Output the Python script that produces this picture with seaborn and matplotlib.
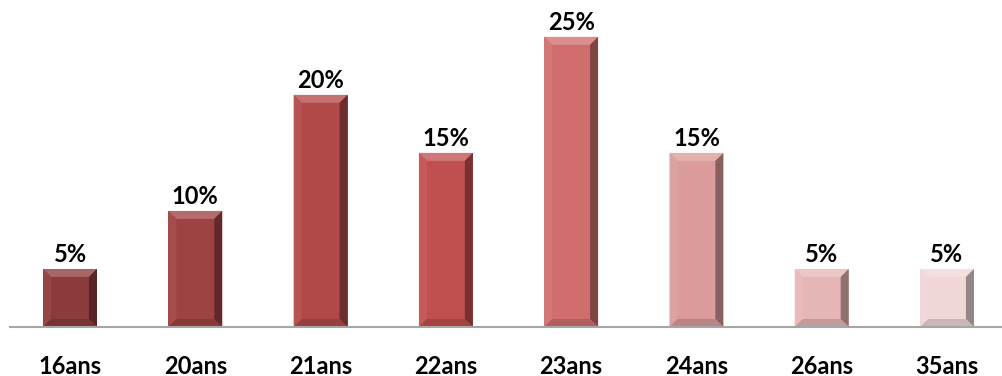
import matplotlib
matplotlib.use("Agg")
import matplotlib.pyplot as plt
import seaborn as sns
import pandas as pd
from matplotlib.patches import Polygon
import matplotlib.colors as mcolors

categories = ["16ans", "20ans", "21ans", "22ans", "23ans", "24ans", "26ans", "35ans"]
values = [5, 10, 20, 15, 25, 15, 5, 5]
labels = ["5%", "10%", "20%", "15%", "25%", "15%", "5%", "5%"]
colors = ["#8C3B3B", "#9F4242", "#B24949", "#C24F4F", "#D06E6E", "#DC9B9B", "#E6B6B6", "#F0D6D6"]

sns.set_theme(style="white")
plt.rcParams['font.family'] = ['Lato', 'DejaVu Sans']

df = pd.DataFrame({"cat": categories, "val": values})
fig = plt.figure(figsize=(10.03, 3.76), dpi=100)
ax = fig.add_axes([0.01, 0.1303, 0.99, 0.8427])
sns.barplot(data=df, x="cat", y="val", hue="cat", palette=colors, legend=False,
            width=0.43, ax=ax, saturation=1)
ax.set_xlim(-0.479, 7.447)
ax.set_ylim(0, 27.3)

fig.canvas.draw()
inv = ax.transData.inverted()
p0 = inv.transform((0, 0)); p1 = inv.transform((8, 8))
bx = p1[0] - p0[0]; by = p1[1] - p0[1]

def shade(c, f):
    r, g, b = mcolors.to_rgb(c)
    if f > 0:
        return (r + (1 - r) * f, g + (1 - g) * f, b + (1 - b) * f)
    return (r * (1 + f), g * (1 + f), b * (1 + f))

for patch, col, lab in zip(ax.patches, colors, labels):
    x, y = patch.get_x(), patch.get_y()
    w, h = patch.get_width(), patch.get_height()
    patch.set_edgecolor("none")
    top = y + h
    ax.add_patch(Polygon([(x, top), (x + w, top), (x + w - bx, top - by), (x + bx, top - by)],
                         closed=True, facecolor=shade(col, 0.22), edgecolor="none"))
    ax.add_patch(Polygon([(x, y), (x, top), (x + bx, top - by), (x + bx, y + by)],
                         closed=True, facecolor=shade(col, 0.06), edgecolor="none"))
    ax.add_patch(Polygon([(x + w, y), (x + w, top), (x + w - bx, top - by), (x + w - bx, y + by)],
                         closed=True, facecolor=shade(col, -0.38), edgecolor="none"))
    ax.add_patch(Polygon([(x, y), (x + w, y), (x + w - bx, y + by), (x + bx, y + by)],
                         closed=True, facecolor=shade(col, -0.15), edgecolor="none"))
    ax.annotate(lab, (x + w / 2, top), xytext=(0, 2), textcoords="offset points",
                ha="center", va="bottom", fontsize=17, fontweight="bold", color="black")

for s in ["top", "right", "left"]:
    ax.spines[s].set_visible(False)
ax.spines["bottom"].set_color("#A6A6A6")
ax.spines["bottom"].set_linewidth(1.5)
ax.set_yticks([])
ax.set_xlabel(""); ax.set_ylabel("")
ax.tick_params(axis="x", length=0, pad=20)
for t in ax.get_xticklabels():
    t.set_fontsize(17); t.set_fontweight("bold"); t.set_color("black")

fig.savefig("out.png", dpi=100)
